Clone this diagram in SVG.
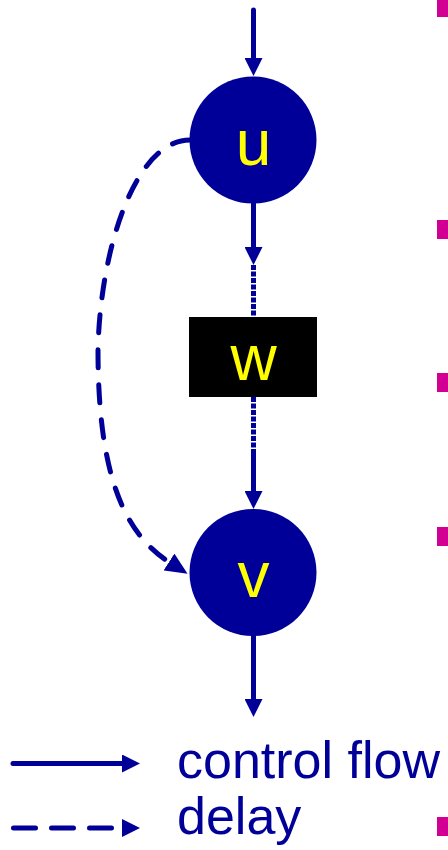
<svg xmlns="http://www.w3.org/2000/svg" width="448" height="850" viewBox="0 0 448 850">
  <style>
    .node { fill: #000099; }
    .box { fill: #000000; }
    .label { fill: #FFFF00; font-family: "Liberation Sans", Arial, sans-serif; font-size: 64px; text-anchor: middle; }
    .legend { fill: #000099; font-family: "Liberation Sans", Arial, sans-serif; font-size: 52px; }
    .flow { stroke: #000099; stroke-width: 5; fill: none; }
    .dotted { stroke: #000099; stroke-width: 5; fill: none; stroke-dasharray: 5 1.5; }
    .delay { stroke: #000099; stroke-width: 5; fill: none; stroke-linecap: round; stroke-dasharray: 18 17; }
    .delay-legend { stroke: #000099; stroke-width: 5; fill: none; stroke-linecap: round; stroke-dasharray: 22 16; }
    .bullet { fill: #D10093; }
  </style>
  <defs>
    <!-- arrowhead whose base sits at the end of the line -->
    <marker id="head" markerUnits="userSpaceOnUse" markerWidth="18" markerHeight="18" refX="0" refY="9" orient="auto">
      <path d="M0,0 L18,9 L0,18 z" fill="#000099"/>
    </marker>
    <marker id="headLong" markerUnits="userSpaceOnUse" markerWidth="22" markerHeight="20" refX="0" refY="10" orient="auto">
      <path d="M0,0 L22,10 L0,20 z" fill="#000099"/>
    </marker>
  </defs>

  <!-- bullet squares at the right edge -->
  <g id="bullets">
    <rect class="bullet" x="437" y="-2" width="19" height="19"/>
    <rect class="bullet" x="437" y="220" width="19" height="19"/>
    <rect class="bullet" x="437" y="373" width="19" height="19"/>
    <rect class="bullet" x="437" y="527" width="19" height="19"/>
    <rect class="bullet" x="437" y="817" width="19" height="19"/>
  </g>

  <g id="connectors">
    <line class="flow" x1="253.5" y1="10" x2="253.5" y2="58" stroke-linecap="round" marker-end="url(#head)"/>
    <line class="flow" x1="253.5" y1="200" x2="253.5" y2="247" marker-end="url(#head)"/>
    <line class="dotted" x1="253.5" y1="265" x2="253.5" y2="317"/>
    <line class="dotted" x1="253.5" y1="397" x2="253.5" y2="450"/>
    <line class="flow" x1="253.5" y1="450" x2="253.5" y2="491" marker-end="url(#head)"/>
    <line class="flow" x1="253.5" y1="630" x2="253.5" y2="699" marker-end="url(#head)"/>
    <path class="delay" d="M190,140 C135,140 100,250 98,350 C98,470 122,532 169,562" marker-end="url(#headLong)"/>
  </g>

  <g id="u">
    <circle class="node" cx="253" cy="140" r="63.5"/>
    <text class="label" x="253.5" y="165">u</text>
  </g>

  <g id="w">
    <rect class="box" x="189" y="317" width="128" height="80"/>
    <text class="label" x="253.5" y="380">w</text>
  </g>

  <g id="v">
    <circle class="node" cx="253" cy="572.5" r="63.5"/>
    <text class="label" x="253.5" y="597">v</text>
  </g>

  <g id="legend">
    <line class="flow" x1="13" y1="763.5" x2="122" y2="763.5" stroke-linecap="round" marker-end="url(#head)"/>
    <text class="legend" x="177" y="778">control flow</text>
    <path class="delay-legend" d="M13.5,828 H122" marker-end="url(#head)"/>
    <text class="legend" x="177" y="834">delay</text>
  </g>
</svg>
